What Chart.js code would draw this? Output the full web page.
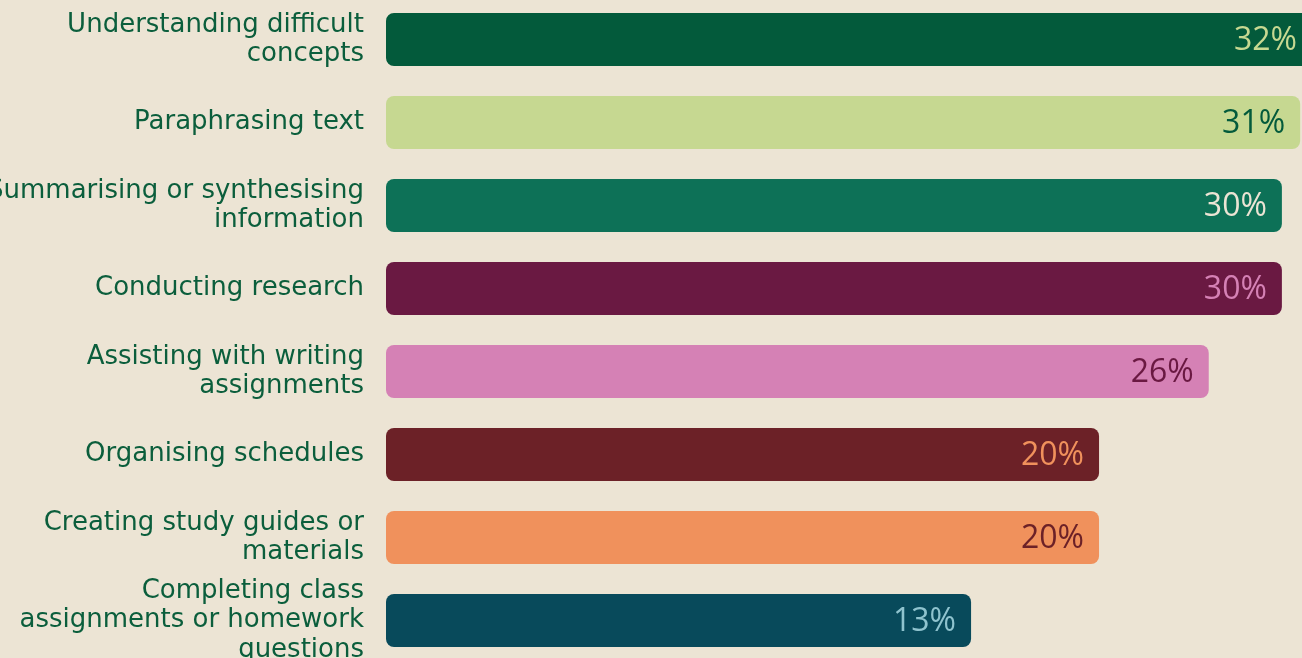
<!DOCTYPE html>
<html>
<head>
<meta charset="utf-8">
<script src="https://cdn.jsdelivr.net/npm/chart.js@4.4.1/dist/chart.umd.min.js"></script>
<style>
  html, body { margin: 0; padding: 0; background: #ece4d4; overflow: hidden; }
  #wrap { position: absolute; left: 0; top: -2px; width: 1302px; height: 664px; }
</style>
</head>
<body>
<div id="wrap"><canvas id="usesChart"></canvas></div>
<script>
const categories = [
  ["Understanding difficult", "concepts"],
  "Paraphrasing text",
  ["Summarising or synthesising", "information"],
  "Conducting research",
  ["Assisting with writing", "assignments"],
  "Organising schedules",
  ["Creating study guides or", "materials"],
  ["Completing class", "assignments or homework", "questions"]
];
const shares = [32, 31, 30, 30, 26, 20, 20, 13];
const barColors = ["#035a3b", "#c6d891", "#0d7157", "#6a1942", "#d581b5", "#6c2127", "#f0915c", "#084a5b"];
const labelColors = ["#c6d891", "#035a3b", "#ece4d4", "#d581b5", "#6a1942", "#f0915c", "#6c2127", "#8fc3ce"];
const axisMin = -19;
const axisMax = 31.1;

const valueLabels = {
  id: "valueLabels",
  afterDatasetsDraw(chart) {
    const { ctx, chartArea } = chart;
    const meta = chart.getDatasetMeta(0);
    ctx.save();
    ctx.font = "32px 'Open Sans'";
    ctx.textAlign = "right";
    ctx.textBaseline = "middle";
    meta.data.forEach((bar, i) => {
      const end = Math.min(bar.x, chartArea.right + 10);
      ctx.fillStyle = labelColors[i];
      ctx.fillText(shares[i] + "%", end - 15, bar.y + 1);
    });
    ctx.restore();
  }
};

new Chart(document.getElementById("usesChart"), {
  type: "bar",
  data: {
    labels: categories,
    datasets: [{
      data: shares,
      base: axisMin,
      backgroundColor: barColors,
      borderRadius: 8,
      borderSkipped: false,
      barPercentage: 0.64,
      categoryPercentage: 1
    }]
  },
  options: {
    indexAxis: "y",
    responsive: true,
    maintainAspectRatio: false,
    animation: false,
    layout: { padding: 0 },
    plugins: { legend: { display: false }, tooltip: { enabled: false } },
    scales: {
      x: { display: false, min: axisMin, max: axisMax },
      y: {
        grid: { display: false, drawTicks: false },
        border: { display: false },
        afterFit: (scale) => {
          scale.width = 386;
          scale.paddingTop = 0;
          scale.paddingBottom = 0;
        },
        ticks: {
          autoSkip: false,
          color: "#0b5e3c",
          padding: 22,
          font: { family: "'DejaVu Sans'", size: 26, lineHeight: 1.13 }
        }
      }
    }
  },
  plugins: [valueLabels]
});
</script>
</body>
</html>
